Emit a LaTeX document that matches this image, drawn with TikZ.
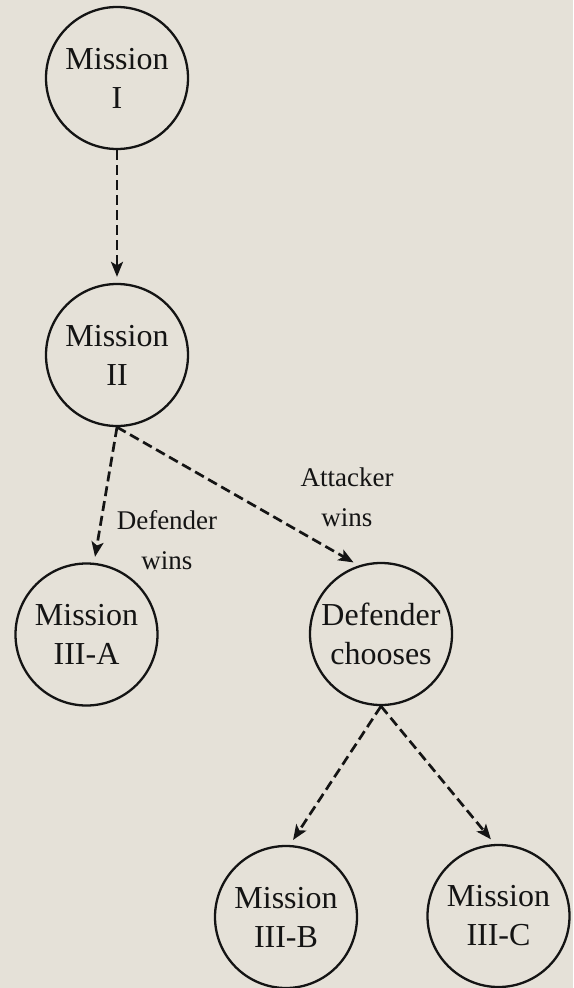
\documentclass[tikz,border=0pt]{standalone}
\usepackage{fontspec}
\setmainfont{Liberation Serif}
\usetikzlibrary{arrows.meta}
\definecolor{parch}{RGB}{229,225,216}
\definecolor{ink}{RGB}{20,20,20}
\begin{document}
\begin{tikzpicture}[x=1pt,y=-1pt,
  mnode/.style={circle,draw=ink,line width=2.3pt,minimum size=142pt,inner sep=-2pt,align=center,font=\fontsize{32}{39}\selectfont,text=ink},
  edge/.style={draw=ink,line width=2.7pt,dash pattern=on 10pt off 5pt,-{Stealth[length=15pt,width=12pt,inset=3.5pt]},shorten >=6pt},
  lab/.style={align=center,font=\fontsize{27}{40}\selectfont,text=ink,inner sep=0pt}]
\fill[parch] (0,0) rectangle (573,988);
\useasboundingbox (0,0) rectangle (573,988);
\node[mnode] (m1) at (117,78) {Mission\\I};
\node[mnode] (m2) at (117,355) {Mission\\II};
\node[mnode] (m3a) at (86.5,634.5) {Mission\\III-A};
\node[mnode] (dc) at (381,634) {Defender\\chooses};
\node[mnode] (m3b) at (286,917) {Mission\\III-B};
\node[mnode] (m3c) at (498.5,916) {Mission\\III-C};
\draw[edge] (m1.south) -- (m2.north);
\draw[edge] (m2.south) -- (m3a.84);
\draw[edge] (m2.south) -- (dc.108);
\draw[edge] (dc.south) -- (m3b.87);
\draw[edge] (dc.south) -- (m3c.93);
\node[lab] (ldw) at (167,540) {Defender\\wins};
\node[lab] (law) at (347,497) {Attacker\\wins};
\end{tikzpicture}
\end{document}
